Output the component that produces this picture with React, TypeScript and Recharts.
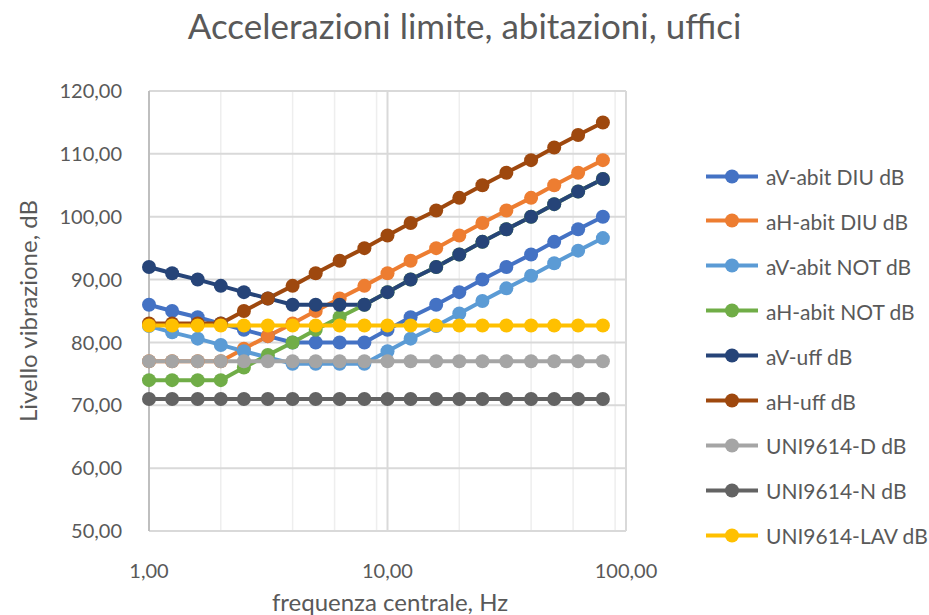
import { LineChart, Line, XAxis, YAxis, CartesianGrid } from 'recharts';

// centre frequencies of the third-octave bands, Hz
const freqs = [1, 1.25, 1.6, 2, 2.5, 3.15, 4, 5, 6.3, 8, 10, 12.5, 16, 20, 25, 31.5, 40, 50, 63, 80];

const aVabitDiu = [86, 85, 84, 83, 82, 81, 80, 80, 80, 80, 82, 84, 86, 88, 90, 92, 94, 96, 98, 100];
const aHabitDiu = [77, 77, 77, 77, 79, 81, 83, 85, 87, 89, 91, 93, 95, 97, 99, 101, 103, 105, 107, 109];
const aVabitNot = [82.6, 81.6, 80.6, 79.6, 78.6, 77.6, 76.6, 76.6, 76.6, 76.6, 78.6, 80.6, 82.6, 84.6, 86.6, 88.6, 90.6, 92.6, 94.6, 96.6];
const aHabitNot = [74, 74, 74, 74, 76, 78, 80, 82, 84, 86, 88, 90, 92, 94, 96, 98, 100, 102, 104, 106];
const aVuff = [92, 91, 90, 89, 88, 87, 86, 86, 86, 86, 88, 90, 92, 94, 96, 98, 100, 102, 104, 106];
const aHuff = [83, 83, 83, 83, 85, 87, 89, 91, 93, 95, 97, 99, 101, 103, 105, 107, 109, 111, 113, 115];
const uniD = [77, 77, 77, 77, 77, 77, 77, 77, 77, 77, 77, 77, 77, 77, 77, 77, 77, 77, 77, 77];
const uniN = [71, 71, 71, 71, 71, 71, 71, 71, 71, 71, 71, 71, 71, 71, 71, 71, 71, 71, 71, 71];
const uniLav = [82.7, 82.7, 82.7, 82.7, 82.7, 82.7, 82.7, 82.7, 82.7, 82.7, 82.7, 82.7, 82.7, 82.7, 82.7, 82.7, 82.7, 82.7, 82.7, 82.7];

const xTicks = [1, 10, 100];
const yTicks = [50, 60, 70, 80, 90, 100, 110, 120];
const minorX = [2, 3, 4, 5, 6, 7, 8, 9, 20, 30, 40, 50, 60, 70, 80, 90];

const series = [
  { key: 'aV-abit DIU dB', values: aVabitDiu, color: '#4472C4' },
  { key: 'aH-abit DIU dB', values: aHabitDiu, color: '#ED7D31' },
  { key: 'aV-abit NOT dB', values: aVabitNot, color: '#5B9BD5' },
  { key: 'aH-abit NOT dB', values: aHabitNot, color: '#70AD47' },
  { key: 'aV-uff dB', values: aVuff, color: '#264478' },
  { key: 'aH-uff dB', values: aHuff, color: '#9E480E' },
  { key: 'UNI9614-D dB', values: uniD, color: '#A5A5A5' },
  { key: 'UNI9614-N dB', values: uniN, color: '#636363' },
  { key: 'UNI9614-LAV dB', values: uniLav, color: '#FFC000' },
];

const data = freqs.map((f, i) => {
  const row: Record<string, number> = { f };
  series.forEach((s) => { row[s.key] = s.values[i]; });
  return row;
});

const fmt = (v: number) => v.toFixed(2).replace('.', ',');
const FONT = 'Lato, "Noto Sans", sans-serif';
const TXT = '#595959';

export default function App() {
  return (
    <div style={{ position: 'absolute', left: 0, top: 0, width: 929, height: 615, background: '#fff', fontFamily: FONT, overflow: 'hidden' }}>
      <div style={{ position: 'absolute', left: 0, width: 929, top: 4, textAlign: 'center', fontSize: 35, color: TXT, lineHeight: '42px' }}>
        Accelerazioni limite, abitazioni, uffici
      </div>
      <LineChart width={929} height={615} data={data} margin={{ top: 91, right: 303, bottom: 44, left: 49 }}>
        <CartesianGrid horizontal={false} verticalValues={minorX} stroke="#eeeeee" strokeWidth={1.5} />
        <CartesianGrid vertical={true} horizontal={true} verticalValues={[10, 100]} horizontalValues={yTicks} stroke="#d9d9d9" strokeWidth={2} />
        <XAxis
          dataKey="f"
          type="number"
          scale="log"
          domain={[1, 100]}
          ticks={xTicks}
          tickFormatter={fmt}
          axisLine={{ stroke: '#d9d9d9', strokeWidth: 2 }}
          tickLine={false}
          tickMargin={27}
          height={40}
          tick={{ fill: TXT, fontSize: 20, fontFamily: FONT }}
        />
        <YAxis
          type="number"
          domain={[50, 120]}
          ticks={yTicks}
          tickFormatter={fmt}
          axisLine={{ stroke: '#bfbfbf', strokeWidth: 2 }}
          tickLine={false}
          tickMargin={21}
          width={100}
          tick={{ fill: TXT, fontSize: 20, fontFamily: FONT }}
        />
        {series.map((s) => (
          <Line
            key={s.key}
            dataKey={s.key}
            type="linear"
            stroke={s.color}
            strokeWidth={4}
            dot={{ r: 7, fill: s.color, stroke: s.color, strokeWidth: 0 }}
            activeDot={false}
            isAnimationActive={false}
          />
        ))}
      </LineChart>
      <div style={{ position: 'absolute', left: 27, top: 311, transform: 'translate(-50%, -50%) rotate(-90deg)', whiteSpace: 'nowrap', fontSize: 24, color: TXT }}>
        Livello vibrazione, dB
      </div>
      <div style={{ position: 'absolute', left: 390, top: 601, transform: 'translate(-50%, -50%)', whiteSpace: 'nowrap', fontSize: 24, color: TXT }}>
        frequenza centrale, Hz
      </div>
      <div style={{ position: 'absolute', left: 705, top: 176 }}>
        {series.map((s, i) => (
          <div key={s.key} style={{ position: 'absolute', left: 0, top: i * 44.9, transform: 'translateY(-50%)', display: 'flex', alignItems: 'center', whiteSpace: 'nowrap' }}>
            <svg width={54} height={16}>
              <line x1={1} y1={8} x2={53} y2={8} stroke={s.color} strokeWidth={4} />
              <circle cx={27} cy={8} r={7} fill={s.color} />
            </svg>
            <span style={{ marginLeft: 7, fontSize: 21, color: TXT }}>{s.key}</span>
          </div>
        ))}
      </div>
    </div>
  );
}
